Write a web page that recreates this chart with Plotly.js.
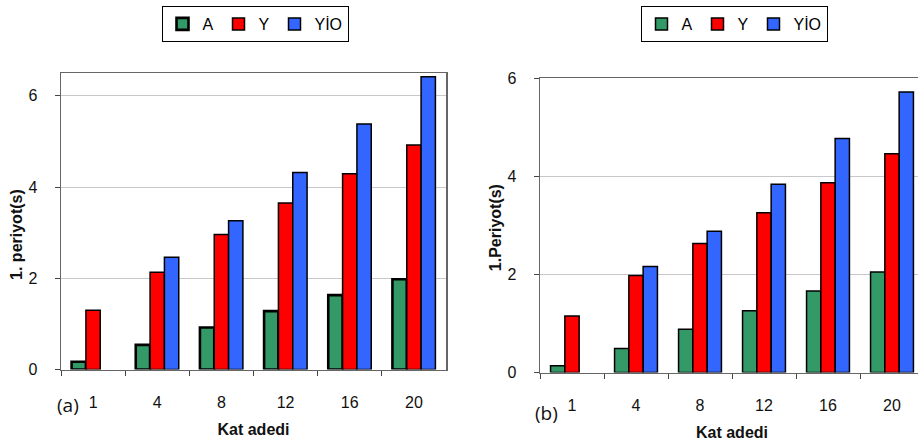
<!DOCTYPE html>
<html>
<head>
<meta charset="utf-8">
<script src="https://cdn.plot.ly/plotly-3.0.1.min.js"></script>
<style>
html,body{margin:0;padding:0;overflow:hidden;background:#fff;}
#chart{width:930px;height:446px;}
</style>
</head>
<body>
<div id="chart"></div>
<script>
// categories (Kat adedi)
const cats = ['1','4','8','12','16','20'];
// series names
const names = ['A','Y','YİO'];
// (a) 1. periyot(s)
const aA   = [0.17, 0.54, 0.92, 1.28, 1.63, 1.98];
const aY   = [1.30, 2.13, 2.96, 3.65, 4.29, 4.92];
const aYIO = [null, 2.46, 3.26, 4.32, 5.38, 6.42];
// (b) 1.Periyot(s)
const bA   = [0.14, 0.49, 0.88, 1.26, 1.66, 2.05];
const bY   = [1.15, 1.98, 2.63, 3.26, 3.87, 4.46];
const bYIO = [null, 2.16, 2.88, 3.84, 4.77, 5.72];

const colors = ['#339966', '#FF0000', '#3366FF'];
const FONT = 'Liberation Sans, Arial, sans-serif';

function bar(name, y, color, xa, ya, leg, lw) {
  return {
    type: 'bar', name: name, x: cats, y: y,
    xaxis: xa, yaxis: ya, legend: leg,
    marker: {color: color, line: {color: '#000', width: lw}},
    hoverinfo: 'x+y+name'
  };
}

const data = [
  bar(names[0], aA, colors[0], 'x', 'y', 'legend', 2.6),
  bar(names[1], aY, colors[1], 'x', 'y', 'legend', 1.5),
  bar(names[2], aYIO, colors[2], 'x', 'y', 'legend', 1.5),
  bar(names[0], bA, colors[0], 'x2', 'y2', 'legend2', 1.5),
  bar(names[1], bY, colors[1], 'x2', 'y2', 'legend2', 1.5),
  bar(names[2], bYIO, colors[2], 'x2', 'y2', 'legend2', 1.5)
];

const W = 930, H = 446;
function xa(domain) {
  return {
    domain: domain, type: 'category', tickson: 'boundaries',
    ticks: 'outside', ticklen: 5, tickcolor: '#444', tickwidth: 1,
    showline: true, linecolor: '#666', linewidth: 1.5, mirror: true,
    showgrid: false, automargin: false, fixedrange: true,
    ticklabelstandoff: 18,
    tickfont: {family: FONT, size: 16, color: '#111'},
    title: {text: '<b>Kat adedi</b>', font: {family: FONT, size: 16, color: '#111'}, standoff: 13}
  };
}
function ya(domain, range, anchor, title) {
  return {
    domain: domain, range: range, dtick: 2, anchor: anchor,
    ticks: 'outside', ticklen: 5, tickcolor: '#444', tickwidth: 1,
    showline: true, linecolor: '#666', linewidth: 1.5, mirror: true,
    showgrid: true, gridcolor: '#c8c8c8', gridwidth: 1,
    zeroline: false, automargin: false, fixedrange: true,
    ticklabelstandoff: 14,
    tickfont: {family: FONT, size: 16, color: '#111'},
    title: {text: '<b>' + title + '</b>', font: {family: FONT, size: 16, color: '#111'}, standoff: 2}
  };
}

const layout = {
  width: W, height: H,
  margin: {l: 0, r: 0, t: 0, b: 0, pad: 0},
  paper_bgcolor: '#fff', plot_bgcolor: '#fff',
  barmode: 'group', bargap: 0.33, bargroupgap: 0,
  showlegend: true,
  xaxis: Object.assign(xa([61/W, 446/W]), {anchor: 'y'}),
  yaxis: ya([(H-369.5)/H, (H-73)/H], [0, 6.5], 'x', '1. periyot(s)&nbsp;&nbsp;&nbsp;&nbsp;&nbsp;&nbsp;'),
  xaxis2: Object.assign(xa([540/W, 924/W]), {anchor: 'y2'}),
  yaxis2: ya([(H-372.5)/H, (H-78.3)/H], [0, 6], 'x2', '1.Periyot(s)&nbsp;'),
  legend: {
    orientation: 'h', x: 255/W, xanchor: 'center', y: 1 - 6/H, yanchor: 'top',
    bordercolor: '#000', borderwidth: 1, bgcolor: '#fff',
    font: {family: FONT, size: 16, color: '#000'}, itemwidth: 30, traceorder: 'normal'
  },
  legend2: {
    orientation: 'h', x: 734/W, xanchor: 'center', y: 1 - 6/H, yanchor: 'top',
    bordercolor: '#000', borderwidth: 1, bgcolor: '#fff',
    font: {family: FONT, size: 16, color: '#000'}, itemwidth: 30, traceorder: 'normal'
  },
  annotations: [
    {text: '(a)', xref: 'paper', yref: 'paper', x: 68/W, y: 1 - 405/H,
     xanchor: 'center', yanchor: 'middle', showarrow: false,
     font: {family: 'Open Sans, Noto Sans, sans-serif', size: 19, color: '#111'}},
    {text: '(b)', xref: 'paper', yref: 'paper', x: 546/W, y: 1 - 413/H,
     xanchor: 'center', yanchor: 'middle', showarrow: false,
     font: {family: 'Open Sans, Noto Sans, sans-serif', size: 19, color: '#111'}}
  ]
};

Plotly.newPlot('chart', data, layout, {displayModeBar: false, staticPlot: true});
</script>
</body>
</html>
